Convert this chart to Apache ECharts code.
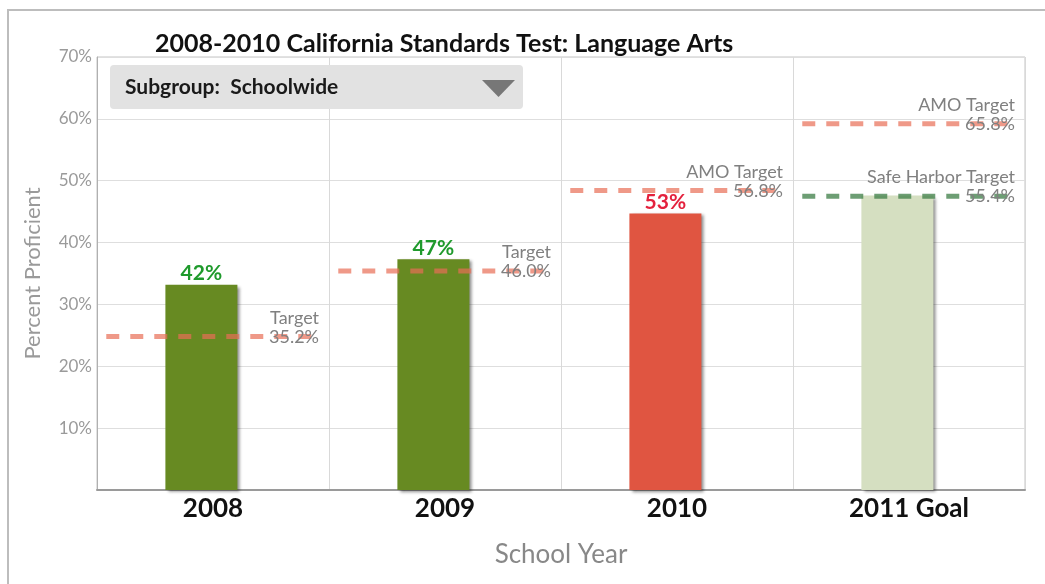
<!DOCTYPE html>
<html>
<head>
<meta charset="utf-8">
<script src="https://cdn.jsdelivr.net/npm/echarts@6/dist/echarts.min.js"></script>
<style>
  html, body { margin: 0; padding: 0; background: #fff; }
  #chart { width: 1045px; height: 584px; }
</style>
</head>
<body>
<div id="chart"></div>
<script>
// categories + values
const categories = ['2008', '2009', '2010', '2011 Goal'];
const barValues = [33.2, 37.3, 44.7, 47.6];
const barLabels = ['42%', '47%', '53%', ''];
const targetValues = [24.8, 35.4, 48.4, 59.2];
const targetNames = ['Target', 'Target', 'AMO Target', 'AMO Target'];
const targetPcts = ['35.2%', '46.0%', '56.8%', '65.8%'];
const safeHarborValue = 47.5;
const safeHarborName = 'Safe Harbor Target';
const safeHarborPct = '55.4%';
const yTicks = [0, 10, 20, 30, 40, 50, 60, 70];

const barColors = ['#678a22', '#678a22', '#e05541', '#d5dfc1'];
const labelColors = ['#1f9a2c', '#1f9a2c', '#e4213d', '#1f9a2c'];
const FONT = 'Lato';
// bars sit a little left of the slot centre in the original
const BAR_POS = 0.45;

// a dashed target line across one category slot, label at its right end
function targetSeries(idx, value, name, pct, color) {
  return {
    type: 'line',
    xAxisIndex: 1,
    z: 5,
    symbol: 'circle',
    symbolSize: 2,
    showSymbol: true,
    itemStyle: { color: 'transparent' },
    lineStyle: { color: color, width: 5, type: [13, 11] },
    silent: true,
    label: { show: false },
    data: [
      [idx + 0.04, value],
      {
        value: [idx + 0.97, value],
        label: {
          show: true,
          position: 'left',
          distance: 2,
          offset: [0, -9],
          formatter: name + '\n' + pct,
          color: '#808080',
          fontFamily: FONT,
          fontSize: 18,
          lineHeight: 19,
          align: 'right'
        }
      }
    ]
  };
}

const series = [
  {
    type: 'bar',
    xAxisIndex: 1,
    barWidth: 72,
    z: 2,
    data: barValues.map((v, i) => ({
      value: [i + BAR_POS, v],
      itemStyle: {
        color: barColors[i],
        shadowColor: 'rgba(0,0,0,0.45)',
        shadowBlur: 3,
        shadowOffsetX: 3,
        shadowOffsetY: 2
      },
      label: {
        show: barLabels[i] !== '',
        position: 'top',
        distance: 1,
        formatter: barLabels[i],
        color: labelColors[i],
        fontFamily: FONT,
        fontWeight: 'bold',
        fontSize: 21
      }
    }))
  }
];
targetValues.forEach((v, i) => {
  series.push(targetSeries(i, v, targetNames[i], targetPcts[i], 'rgba(232,110,85,0.7)'));
});
series.push(targetSeries(3, safeHarborValue, safeHarborName, safeHarborPct, 'rgba(60,125,70,0.75)'));

const chart = echarts.init(document.getElementById('chart'));
chart.setOption({
  animation: false,
  backgroundColor: '#fff',
  textStyle: { fontFamily: FONT },
  title: {
    text: '2008-2010 California Standards Test: Language Arts',
    left: 150,
    top: 26,
    textStyle: { fontFamily: FONT, fontWeight: 'bold', fontSize: 25, color: '#111' }
  },
  grid: {
    left: 97, right: 20, top: 57, bottom: 94,
    show: true, borderColor: '#c4c4c4', borderWidth: 1
  },
  xAxis: [
    {
      type: 'category',
      data: categories,
      boundaryGap: true,
      axisLine: { lineStyle: { color: '#9a9a9a', width: 2 } },
      axisTick: { show: false },
      splitLine: { show: true, interval: 0, lineStyle: { color: '#d9d9d9' } },
      axisLabel: { color: '#111', fontFamily: FONT, fontWeight: 'bold', fontSize: 26, margin: 6 },
      name: 'School Year',
      nameLocation: 'middle',
      nameGap: 52,
      nameTextStyle: { color: '#888', fontFamily: FONT, fontSize: 26 }
    },
    { type: 'value', min: 0, max: categories.length, show: false }
  ],
  yAxis: {
    type: 'value',
    min: yTicks[0],
    max: yTicks[yTicks.length - 1],
    interval: 10,
    axisLine: { show: true, lineStyle: { color: '#b0b0b0' } },
    axisTick: { show: false },
    splitLine: { lineStyle: { color: '#dedede' } },
    axisLabel: {
      color: '#9a9a9a', fontFamily: FONT, fontSize: 17, margin: 5,
      formatter: v => (v === 0 ? '' : v + '%')
    },
    name: 'Percent Proficient',
    nameLocation: 'middle',
    nameGap: 53,
    nameTextStyle: { color: '#9a9a9a', fontFamily: FONT, fontSize: 22 }
  },
  graphic: [
    {
      type: 'rect',
      shape: { x: 8, y: 10, width: 1045, height: 600 },
      style: { fill: 'none', stroke: '#bdbdbd', lineWidth: 2 },
      silent: true
    },
    {
      type: 'rect',
      shape: { x: 110, y: 65, width: 413, height: 44, r: 4 },
      style: { fill: '#e2e2e2' },
      z: 10
    },
    {
      type: 'text',
      x: 125, y: 87,
      style: {
        text: 'Subgroup:  Schoolwide',
        fill: '#1a1a1a',
        font: 'bold 21px Lato',
        verticalAlign: 'middle'
      },
      z: 11
    },
    {
      type: 'polygon',
      shape: { points: [[482, 80], [515, 80], [498.5, 97]] },
      style: { fill: '#777' },
      z: 11
    }
  ],
  series: series
});
</script>
</body>
</html>
